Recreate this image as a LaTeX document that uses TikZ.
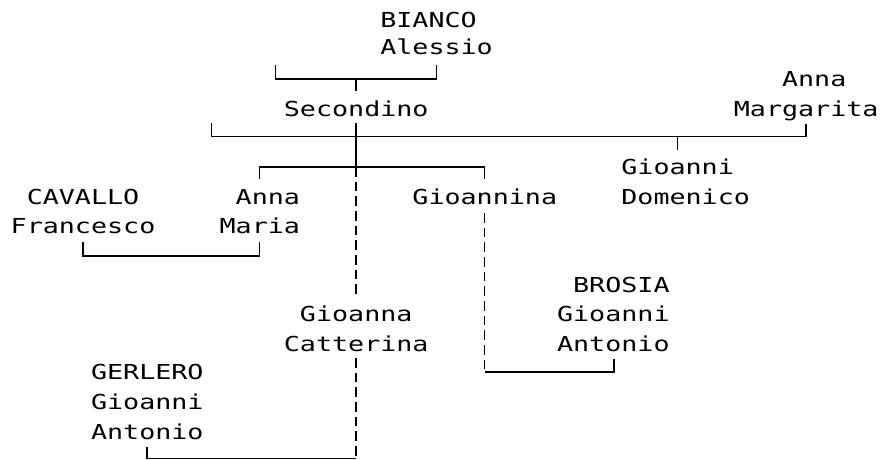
\documentclass[tikz,border=0pt]{standalone}
\usepackage{fontspec}
\newfontfamily\treemono[FakeStretch=1.296]{DejaVu Sans Mono}
\begin{document}
\begin{tikzpicture}[x=1pt,y=-1pt,
  txt/.style={anchor=base west, inner sep=0pt, font=\treemono\fontsize{20.6pt}{24pt}\selectfont},
  ln/.style={line width=1.5pt, black},
  dln/.style={ln, dash pattern=on 9.7pt off 4.95pt}]
\useasboundingbox (0,0) rectangle (880,460);
\def\W{16.07}
\def\X{10.5}
% ---- texts (column start, baseline)
\node[txt] (bianco1) at (\X+23*\W, 27.3) {BIANCO};
\node[txt] (bianco2) at (\X+23*\W, 54.5) {Alessio};
\node[txt] (annmar1) at (\X+48*\W, 86.5) {Anna};
\node[txt] (annmar2) at (\X+45*\W, 116.5) {Margarita};
\node[txt] (second)  at (\X+17*\W, 116.5) {Secondino};
\node[txt] (giodom1) at (\X+38*\W, 174) {Gioanni};
\node[txt] (giodom2) at (\X+38*\W, 204.3) {Domenico};
\node[txt] (caval1)  at (\X+1*\W, 204.3) {CAVALLO};
\node[txt] (caval2)  at (\X+0*\W, 233.3) {Francesco};
\node[txt] (annmaria1) at (\X+14*\W, 204.3) {Anna};
\node[txt] (annmaria2) at (\X+13*\W, 233.3) {Maria};
\node[txt] (gioannina) at (\X+25*\W, 204.3) {Gioannina};
\node[txt] (brosia1) at (\X+35*\W, 292.3) {BROSIA};
\node[txt] (brosia2) at (\X+34*\W, 321.5) {Gioanni};
\node[txt] (brosia3) at (\X+34*\W, 351) {Antonio};
\node[txt] (giocat1) at (\X+18*\W, 321.3) {Gioanna};
\node[txt] (giocat2) at (\X+17*\W, 351) {Catterina};
\node[txt] (gerl1)   at (\X+5*\W, 379) {GERLERO};
\node[txt] (gerl2)   at (\X+5*\W, 409) {Gioanni};
\node[txt] (gerl3)   at (\X+5*\W, 439) {Antonio};
% ---- connector points (column centres)
\coordinate (ub1) at (\X+16.5*\W, 65);
\coordinate (ub2) at (\X+16.5*\W, 79);
\coordinate (ub3) at (\X+26.5*\W, 79);
\coordinate (ub4) at (\X+26.5*\W, 65);
\coordinate (ut1) at (\X+21.5*\W, 79);
\coordinate (ut2) at (\X+21.5*\W, 91);
\coordinate (sb1) at (\X+12.5*\W, 123);
\coordinate (sb2) at (\X+12.5*\W, 136.5);
\coordinate (sb3) at (\X+49.5*\W, 136.5);
\coordinate (sb4) at (\X+49.5*\W, 123.5);
\coordinate (sv1) at (\X+21.5*\W, 123);
\coordinate (sv2) at (\X+21.5*\W, 167);
\coordinate (gd1) at (\X+41.5*\W, 136.5);
\coordinate (gd2) at (\X+41.5*\W, 150);
\coordinate (cb1) at (\X+15.5*\W, 179);
\coordinate (cb2) at (\X+15.5*\W, 167);
\coordinate (cb3) at (\X+29.5*\W, 167);
\coordinate (cb4) at (\X+29.5*\W, 179);
\coordinate (gc1) at (\X+21.5*\W, 294.5);
\coordinate (gc2) at (\X+21.5*\W, 358);
\coordinate (gb1) at (\X+21.5*\W, 458.5);
\coordinate (gb2) at (\X+8.5*\W, 458.5);
\coordinate (gb3) at (\X+8.5*\W, 447);
\coordinate (fb1) at (\X+4.5*\W, 242);
\coordinate (fb2) at (\X+4.5*\W, 256);
\coordinate (fb3) at (\X+15.5*\W, 256);
\coordinate (fb4) at (\X+15.5*\W, 242);
\coordinate (gn1) at (\X+29.5*\W, 213);
\coordinate (gn2) at (\X+29.5*\W, 372);
\coordinate (bb1) at (614, 372);
\coordinate (bb2) at (614, 359);
% ---- connectors
\draw[ln] (ub1) -- (ub2) -- (ub3) -- (ub4);
\draw[ln] (ut1) -- (ut2);
\draw[ln] (sb1) -- (sb2) -- (sb3) -- (sb4);
\draw[ln] (sv1) -- (sv2);
\draw[ln] (gd1) -- (gd2);
\draw[ln] (cb1) -- (cb2) -- (cb3) -- (cb4);
\draw[dln] (sv2) -- (gc1);
\draw[dln] (gc2) -- (gb1);
\draw[ln] (gb1) -- (gb2) -- (gb3);
\draw[ln] (fb1) -- (fb2) -- (fb3) -- (fb4);
\draw[dln] (gn1) -- (gn2);
\draw[ln] (gn2) -- (bb1) -- (bb2);
\end{tikzpicture}
\end{document}
